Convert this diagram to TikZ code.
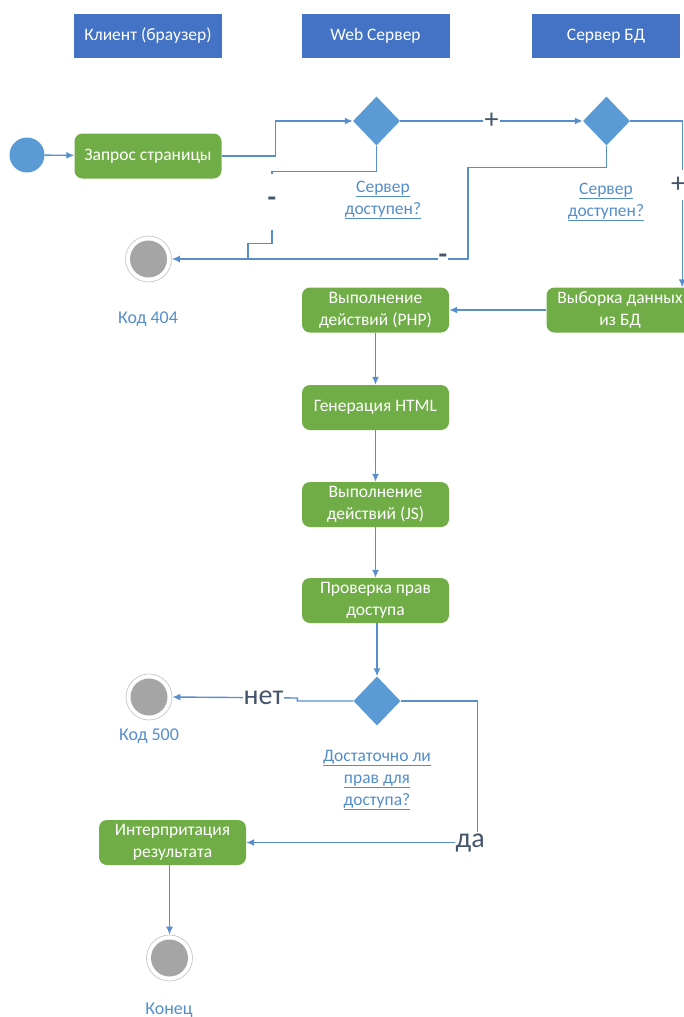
\documentclass[tikz,border=0pt]{standalone}
\usepackage{fontspec}
\setmainfont{Carlito}
\usetikzlibrary{shapes.geometric,arrows.meta}
\definecolor{hdrblue}{HTML}{4472C4}
\definecolor{grn}{HTML}{70AD47}
\definecolor{lblue}{HTML}{5B9BD5}
\definecolor{lnblue}{RGB}{88,142,204}
\definecolor{txtblue}{RGB}{84,141,204}
\definecolor{dark}{HTML}{44546A}
\definecolor{endgray}{HTML}{A5A5A5}
\tikzset{
  hdr/.style={rectangle, fill=hdrblue, text=white, minimum width=148pt, minimum height=44pt, inner sep=0pt, font=\fontsize{17.5}{20}\selectfont},
  act/.style={rectangle, rounded corners=8pt, fill=grn, text=white, minimum width=147pt, minimum height=45pt, inner sep=1pt, align=center, font=\fontsize{17.5}{22}\selectfont},
  dec/.style={diamond, fill=lblue, minimum width=47pt, minimum height=49pt, inner sep=0pt},
  endst/.style={circle, fill=white, draw=black!22, line width=0.7pt, minimum size=46pt, inner sep=0pt,
    path picture={\fill[endgray] (path picture bounding box.center) circle (18.5pt);}},
  link/.style={text=txtblue, align=center, font=\fontsize{17.5}{22}\selectfont},
  captxt/.style={text=txtblue, font=\fontsize{18}{20}\selectfont},
  lab/.style={fill=white, text=dark, inner sep=1.5pt, font=\fontsize{28}{30}\selectfont},
  ln/.style={draw=lnblue, line width=1.4pt},
  arr/.style={ln, -{Latex[length=8pt,width=7pt]}},
}
\begin{document}
\begin{tikzpicture}[x=1pt,y=-1pt]
\useasboundingbox (0,0) rectangle (684,1017);
% headers
\node[hdr] (h1) at (148,36) {Клиент (браузер)};
\node[hdr] (h2) at (375.5,36) {Web Сервер};
\node[hdr] (h3) at (606,36) {Сервер БД};
% nodes
\node[circle, fill=lblue, minimum size=35pt, inner sep=0pt] (st) at (27,155) {};
\node[act] (req) at (148,156) {Запрос страницы};
\node[dec] (d1) at (376.5,121) {};
\node[dec] (d2) at (606.5,121) {};
\node[link] (l1) at (383,200) {\underline{Сервер}\\\underline{доступен?}};
\node[link] (l2) at (606,202) {\underline{Сервер}\\\underline{доступен?}};
\node[endst] (e404) at (148.5,259) {};
\node[captxt] (c404) at (148,319) {Код 404};
\node[act] (php) at (375.5,310) {Выполнение\\действий (PHP)};
\node[act] (sel) at (620,310) {Выборка данных\\из БД};
\node[act] (html) at (375.5,407.5) {Генерация HTML};
\node[act] (js) at (375.5,504.5) {Выполнение\\действий (JS)};
\node[act] (chk) at (375.5,600.5) {Проверка прав\\доступа};
\node[dec] (d3) at (377,701) {};
\node[endst] (e500) at (149,697) {};
\node[captxt] (c500) at (149,736) {Код 500};
\node[link] (l3) at (377,780) {\underline{Достаточно ли}\\\underline{прав для}\\\underline{доступа?}};
\node[act] (int) at (172.5,842.5) {Интерпритация\\результата};
\node[endst] (fin) at (169.5,958) {};
\node[captxt] (cfin) at (169,1010) {Конец};
% connectors
\draw[arr] (st) -- (req);
\draw[arr] (req.east) -- ++(54,0) |- (d1.west);
\draw[arr] (d1.east) -- node[lab, pos=0.5]{+} (d2.west);
\draw[arr] (d2.east) -- ++(52,0) coordinate (c1) -- node[lab, pos=0.385, minimum height=30pt, xshift=-4pt]{+} (c1 |- sel.north);
\draw[arr] (sel.west) -- (php.east);
\draw[arr] (d2.south) -- ++(0,22) -- ++(-138.5,0) coordinate (c2) -- (c2 |- e404.east) -- node[lab, pos=0.085, inner sep=0.5pt]{\textbf{-}} (e404.east);
\draw[ln] (d1.south) -- ++(0,26) -- ++(-104.5,0) coordinate (c3) -- node[lab, pos=0.42, minimum height=56pt, inner sep=0pt]{\textbf{-}} ++(0,72) -- ++(-24,0) coordinate (c4) -- (c4 |- e404.east);
\draw[arr] (php) -- (html);
\draw[arr] (html) -- (js);
\draw[arr] (js) -- (chk);
\draw[arr] (chk.south -| d3.north) -- (d3.north);
\draw[arr] (d3.west) -- ++(-56,0) -- ++(0,-3) -- node[lab, pos=0.27, inner sep=1pt]{нет} (e500.east);
\draw[arr] (d3.east) -- ++(76.5,0) coordinate (c5) -- (c5 |- int.east) node[lab, xshift=-7pt, inner sep=1pt]{да} -- (int.east);
\draw[arr] (int.south -| fin.north) -- (fin.north);
\end{tikzpicture}
\end{document}
